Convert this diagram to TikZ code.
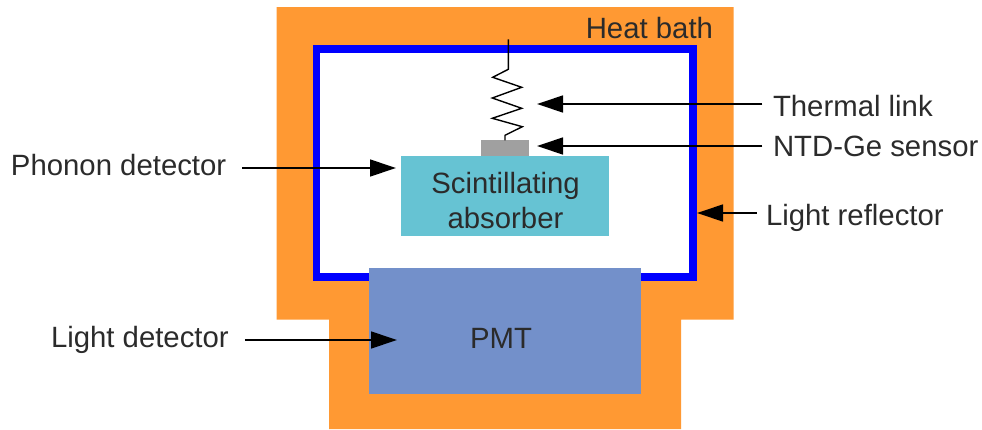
\documentclass[tikz,border=0pt]{standalone}
\usepackage{fontspec}
\setmainfont{Liberation Sans}
\usetikzlibrary{arrows.meta,calc}
\definecolor{bath}{HTML}{FF9933}
\definecolor{refl}{HTML}{0000FF}
\definecolor{pmt}{HTML}{7390CA}
\definecolor{absb}{HTML}{66C3D3}
\definecolor{sens}{HTML}{A0A0A0}
\definecolor{ink}{HTML}{2B2B2B}
\tikzset{
  lbl/.style={text=ink,font=\fontsize{22pt}{26pt}\selectfont,inner sep=0pt,outer sep=0pt},
  pointer/.style={draw=black,line width=2pt,-{Triangle[length=19.5pt,width=12.5pt]}},
}
\begin{document}
\begin{tikzpicture}[x=0.75pt,y=-0.75pt]
\useasboundingbox (0,0) rectangle (982,429);
% heat bath
\fill[bath] (276.5,7) -- (733.5,7) -- (733.5,319.5) -- (681,319.5) -- (681,429) -- (329,429) -- (329,319.5) -- (276.5,319.5) -- cycle;
% light reflector
\draw[refl,line width=5.8pt,fill=white,miter limit=10] (316.5,49) rectangle (693.3,277);
% PMT
\node[fill=pmt,anchor=north west,minimum width=204pt,minimum height=94.3pt,inner sep=0pt,outer sep=0pt] (pmtbox) at (369,268) {};
\node[lbl] (pmtlbl) at (501,338.5) {PMT};
% absorber
\node[fill=absb,anchor=north west,minimum width=156pt,minimum height=60pt,inner sep=0pt,outer sep=0pt] (absorber) at (401,156) {};
\node[lbl] (abslbl1) at (505.5,186) {Scintillating};
\node[lbl] (abslbl2) at (505.5,218) {absorber};
% sensor
\node[fill=sens,anchor=north west,minimum width=36pt,minimum height=11.9pt,inner sep=0pt,outer sep=0pt] (sensor) at (481,140.2) {};
% thermal link
\coordinate (linktop) at (508.3,39.3);
\coordinate (linkbot) at (505,140.3);
\draw[black,line width=1.05pt,line join=miter] (linktop) -- (508.3,69.3) -- (492.7,77.3) -- (521.7,87.3) -- (492.3,98) -- (521.7,108.3) -- (492.3,118.3) -- (522.3,126.7) -- (505,135.3) -- (linkbot);
% labels
\node[lbl,anchor=east] (bathlbl) at (713,28) {Heat bath};
\node[lbl,anchor=west] (thermal) at (773,106) {Thermal link};
\node[lbl,anchor=west] (ntd) at (773,146.5) {NTD-Ge sensor};
\node[lbl,anchor=west] (reflector) at (766,218) {Light reflector};
\node[lbl,anchor=west] (phonon) at (11,165.5) {Phonon detector};
\node[lbl,anchor=west] (lightdet) at (51,340) {Light detector};
% arrow ends
\coordinate (t1) at (537,104);
\coordinate (t2) at (537,146);
\coordinate (t3) at (697,213);
\coordinate (t4) at (396,168);
\coordinate (t5) at (397,340);
\draw[pointer,shorten <=8pt] (thermal.west |- t1) -- (t1);
\draw[pointer,shorten <=8pt] (ntd.west |- t2) -- (t2);
\draw[pointer,shorten <=7pt] (reflector.west |- t3) -- (t3);
\draw[pointer,shorten <=12pt] (phonon.east |- t4) -- (t4);
\draw[pointer,shorten <=12pt] (lightdet.east |- t5) -- (t5);
\end{tikzpicture}
\end{document}
